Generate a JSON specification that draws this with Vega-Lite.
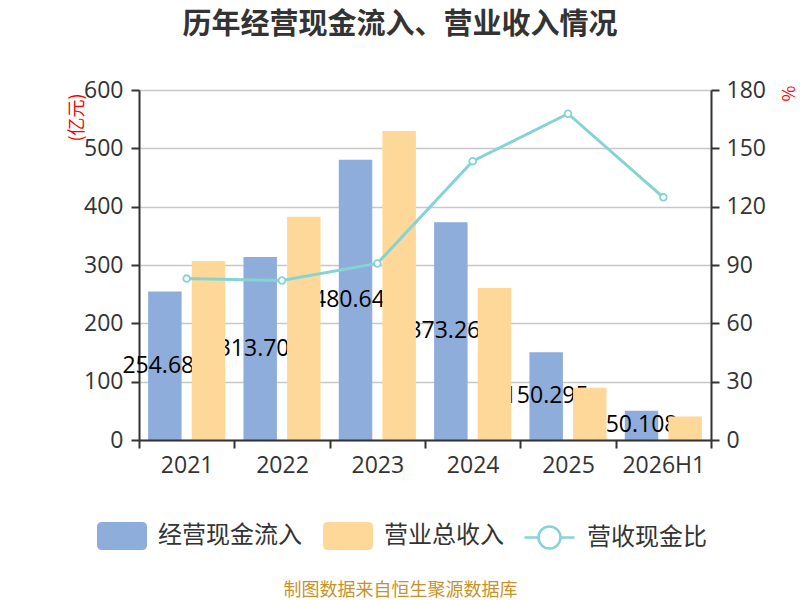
{
  "$schema": "https://vega.github.io/schema/vega-lite/v6.json",
  "width": 572,
  "height": 350,
  "autosize": {"type": "none"},
  "padding": {"left": 139, "top": 90, "right": 89, "bottom": 160},
  "background": "white",
  "config": {"view": {"stroke": null}, "font": "Noto Sans CJK SC"},
  "title": {
    "text": "历年经营现金流入、营业收入情况",
    "font": "Noto Sans CJK SC",
    "fontSize": 29,
    "fontWeight": "bold",
    "color": "#333333",
    "anchor": "middle",
    "frame": "group",
    "dx": -25,
    "offset": 39
  },
  "data": {
    "values": [
      {"year": "2021", "series": "经营现金流入", "value": 254.684},
      {"year": "2021", "series": "营业总收入", "value": 306.9},
      {"year": "2021", "series": "营收现金比", "value": 83.0},
      {"year": "2022", "series": "经营现金流入", "value": 313.702},
      {"year": "2022", "series": "营业总收入", "value": 382.8},
      {"year": "2022", "series": "营收现金比", "value": 82.0},
      {"year": "2023", "series": "经营现金流入", "value": 480.641},
      {"year": "2023", "series": "营业总收入", "value": 529.7},
      {"year": "2023", "series": "营收现金比", "value": 90.8},
      {"year": "2024", "series": "经营现金流入", "value": 373.263},
      {"year": "2024", "series": "营业总收入", "value": 260.5},
      {"year": "2024", "series": "营收现金比", "value": 143.4},
      {"year": "2025", "series": "经营现金流入", "value": 150.295},
      {"year": "2025", "series": "营业总收入", "value": 89.7},
      {"year": "2025", "series": "营收现金比", "value": 167.8},
      {"year": "2026H1", "series": "经营现金流入", "value": 50.108},
      {"year": "2026H1", "series": "营业总收入", "value": 40.2},
      {"year": "2026H1", "series": "营收现金比", "value": 124.8}
    ]
  },
  "encoding": {
    "x": {
      "field": "year",
      "type": "nominal",
      "sort": null,
      "scale": {"paddingInner": 0, "paddingOuter": 0},
      "axis": {
        "title": "制图数据来自恒生聚源数据库",
        "titleColor": "#c8922a",
        "titleFont": "Noto Sans CJK SC",
        "titleFontSize": 18,
        "titleFontWeight": "normal",
        "titleX": 261,
        "titleY": 150,
        "titleAlign": "center",
        "titleBaseline": "middle",
        "labelFont": "Open Sans",
        "labelFontSize": 23,
        "labelColor": "#333333",
        "labelAngle": 0,
        "labelPadding": 6,
        "tickBand": "extent",
        "tickSize": 8,
        "tickWidth": 2,
        "tickColor": "#333333",
        "domainColor": "#333333",
        "domainWidth": 2,
        "grid": false,
        "zindex": 1
      }
    }
  },
  "layer": [
    {
      "transform": [{"filter": "datum.series === '经营现金流入'"}],
      "mark": {"type": "bar"},
      "encoding": {
        "xOffset": {
          "field": "series",
          "type": "nominal",
          "scale": {"domain": ["经营现金流入", "营业总收入"], "paddingInner": 0.2326, "paddingOuter": 0.209}
        },
        "y": {
          "field": "value",
          "type": "quantitative",
          "scale": {"domain": [0, 600]},
          "axis": {
            "orient": "left",
            "values": [0, 100, 200, 300, 400, 500, 600],
            "title": "(亿元)",
            "titleColor": "#ff0000",
            "titleFont": "Noto Sans CJK SC",
            "titleFontSize": 18,
            "titleFontWeight": "normal",
            "titleX": -62,
            "titleY": 27,
            "titleAlign": "center",
            "titleBaseline": "middle",
            "labelFont": "Open Sans",
            "labelFontSize": 23,
            "labelColor": "#333333",
            "labelPadding": 8,
            "tickSize": 8,
            "tickWidth": 2,
            "tickColor": "#333333",
            "domainColor": "#333333",
            "domainWidth": 2,
            "grid": true,
            "gridColor": "#c8c8c8",
            "gridWidth": 1.5
          }
        },
        "color": {
          "field": "series",
          "type": "nominal",
          "scale": {
            "domain": ["经营现金流入", "营业总收入"],
            "range": ["#8eadda", "#fed899"]
          },
          "legend": {
            "orient": "none",
            "legendX": -42,
            "legendY": 421,
            "direction": "horizontal",
            "title": null,
            "padding": 0,
            "columnPadding": 21,
            "labelOffset": 11,
            "labelFont": "Noto Sans CJK SC",
            "labelFontSize": 24,
            "labelColor": "#333333",
            "symbolSize": 2500,
            "symbolStrokeWidth": 0,
            "symbolOpacity": 1,
            "symbolType": "M-0.8,-0.56L0.8,-0.56Q1,-0.56,1,-0.36L1,0.36Q1,0.56,0.8,0.56L-0.8,0.56Q-1,0.56,-1,0.36L-1,-0.36Q-1,-0.56,-0.8,-0.56Z"
          }
        }
      }
    },
    {
      "transform": [{"filter": "datum.series === '经营现金流入'"}],
      "mark": {"type": "text", "font": "Open Sans", "fontSize": 23, "color": "#000000", "baseline": "middle", "align": "center"},
      "encoding": {
        "xOffset": {"field": "series", "type": "nominal"},
        "y": {"field": "value", "type": "quantitative", "scale": {"domain": [0, 1200]}, "axis": null},
        "text": {"field": "value", "type": "quantitative", "format": ".3f"}
      }
    },
    {
      "transform": [{"filter": "datum.series === '营业总收入'"}],
      "mark": {"type": "bar"},
      "encoding": {
        "xOffset": {"field": "series", "type": "nominal"},
        "y": {"field": "value", "type": "quantitative", "scale": {"domain": [0, 600]}, "axis": null},
        "color": {"field": "series", "type": "nominal"}
      }
    },
    {
      "transform": [{"filter": "datum.series === '营收现金比'"}],
      "mark": {"type": "line", "strokeWidth": 3},
      "encoding": {
        "y": {
          "field": "value",
          "type": "quantitative",
          "scale": {"domain": [0, 180]},
          "axis": {
            "orient": "right",
            "values": [0, 30, 60, 90, 120, 150, 180],
            "title": "%",
            "titleColor": "#ff0000",
            "titleFont": "Noto Sans CJK SC",
            "titleFontSize": 17,
            "titleFontWeight": "normal",
            "titleX": 75,
            "titleY": 3,
            "titleAlign": "center",
            "titleBaseline": "middle",
            "labelFont": "Open Sans",
            "labelFontSize": 23,
            "labelColor": "#333333",
            "labelPadding": 7,
            "tickSize": 8,
            "tickWidth": 2,
            "tickColor": "#333333",
            "domainColor": "#333333",
            "domainWidth": 2,
            "grid": false
          }
        },
        "stroke": {
          "field": "series",
          "type": "nominal",
          "scale": {"domain": ["营收现金比"], "range": ["#86d3d6"]},
          "legend": {
            "orient": "none",
            "legendX": 384,
            "legendY": 421,
            "direction": "horizontal",
            "title": null,
            "padding": 0,
            "labelOffset": 11,
            "labelFont": "Noto Sans CJK SC",
            "labelFontSize": 24,
            "labelColor": "#333333",
            "symbolSize": 2500,
            "symbolStrokeWidth": 2.5,
            "symbolFillColor": "#ffffff",
            "symbolOpacity": 1,
            "symbolType": "M-1,0L-0.44,0M0.44,0L1,0M-0.44,0A0.44,0.44,0,1,1,0.44,0A0.44,0.44,0,1,1,-0.44,0Z"
          }
        }
      }
    },
    {
      "transform": [{"filter": "datum.series === '营收现金比'"}],
      "mark": {"type": "point", "shape": "circle", "filled": true, "fill": "#ffffff", "stroke": "#86d3d6", "strokeWidth": 1.8, "size": 45, "opacity": 1},
      "encoding": {
        "y": {"field": "value", "type": "quantitative", "scale": {"domain": [0, 180]}, "axis": null}
      }
    }
  ],
  "resolve": {"scale": {"y": "independent"}}
}
